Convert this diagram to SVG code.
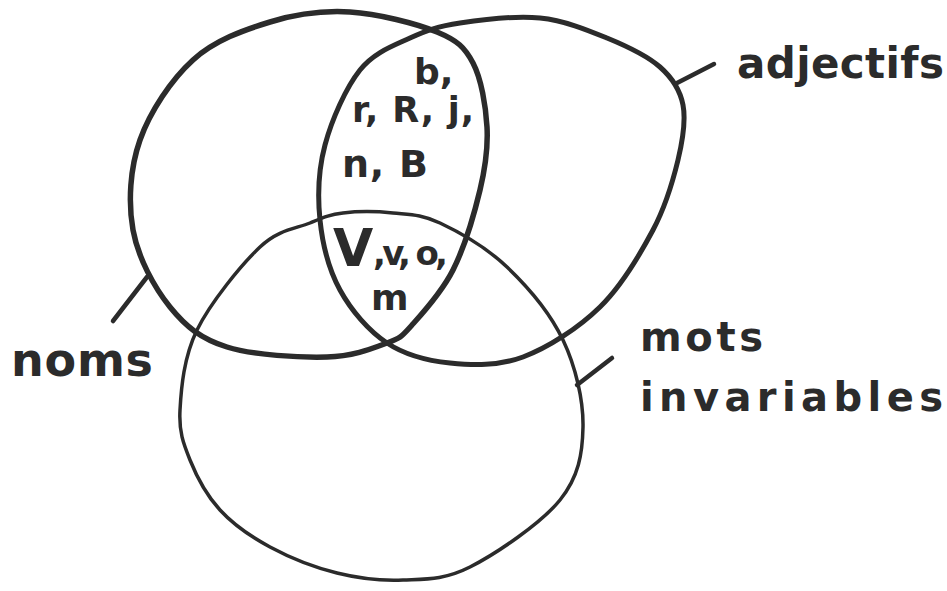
<svg xmlns="http://www.w3.org/2000/svg" width="947" height="591" viewBox="0 0 947 591">
<style>
.set{fill:none;stroke:#2b2b2b;stroke-linecap:round;stroke-linejoin:round}
.thick{stroke-width:5.5}
.med{stroke-width:5}
.thin{stroke-width:3.5}
.lead{fill:none;stroke:#2b2b2b;stroke-width:4.5;stroke-linecap:round}
.lbl{font-family:"DejaVu Sans","Liberation Sans",Arial,sans-serif;font-weight:bold;fill:#2b2b2b}
</style>
<rect width="947" height="591" fill="#ffffff"/>
<g id="node-mots-invariables">
<path class="set thin" d="M343,213 C356.8,211.3 376.8,211.3 393,213 C409.2,214.7 421,214 440,223 C459,232 486.5,247.5 507,267 C527.5,286.5 550.3,313.3 563,340 C575.7,366.7 583.5,400.3 583,427 C582.5,453.7 578.8,476.7 560,500 C541.2,523.3 496.2,553.7 470,567 C443.8,580.3 425.2,579 403,580 C380.8,581 359.2,578.5 337,573 C314.8,567.5 289.5,557.5 270,547 C250.5,536.5 233.3,524.5 220,510 C206.7,495.5 196.7,476.7 190,460 C183.3,443.3 178.8,431.7 180,410 C181.2,388.3 183.7,357.2 197,330 C210.3,302.8 241.2,264.8 260,247 C278.8,229.2 296.2,228.7 310,223 C323.8,217.3 329.2,214.7 343,213 Z"/>
<text class="lbl" x="640" y="351" font-size="40" textLength="123" lengthAdjust="spacing">mots</text>
<text class="lbl" x="640" y="411" font-size="40" textLength="303" lengthAdjust="spacing">invariables</text>
</g>
<g id="node-noms">
<path class="set thick" d="M350,12 C377.8,13.7 416.5,23.5 437,32 C457.5,40.5 464.7,47.2 473,63 C481.3,78.8 485.8,105.8 487,127 C488.2,148.2 485.7,166.2 480,190 C474.3,213.8 464.3,247.5 453,270 C441.7,292.5 423,312.8 412,325 C401,337.2 401.2,337.7 387,343 C372.8,348.3 353.7,356.3 327,357 C300.3,357.7 253.2,355.3 227,347 C200.8,338.7 185.7,326.5 170,307 C154.3,287.5 138,257.8 133,230 C128,202.2 130,168.3 140,140 C150,111.7 171.3,79.7 193,60 C214.7,40.3 243.8,30 270,22 C296.2,14 322.2,10.3 350,12 Z"/>
<text class="lbl" x="11" y="376" font-size="46" textLength="142" lengthAdjust="spacing">noms</text>
</g>
<g id="node-adjectifs">
<path class="set med" d="M460,23 C481.7,19.7 515.5,15.5 540,18 C564.5,20.5 587,29.8 607,38 C627,46.2 647.3,55.8 660,67 C672.7,78.2 680,89.5 683,105 C686,120.5 683,139.2 678,160 C673,180.8 666,205.5 653,230 C640,254.5 621.7,285.8 600,307 C578.3,328.2 548,347.7 523,357 C498,366.3 472.7,365.3 450,363 C427.3,360.7 405.3,355.2 387,343 C368.7,330.8 351.2,310.5 340,290 C328.8,269.5 322.5,244.2 320,220 C317.5,195.8 318.3,170 325,145 C331.7,120 345.8,87.8 360,70 C374.2,52.2 393.3,45.8 410,38 C426.7,30.2 438.3,26.3 460,23 Z"/>
<text class="lbl" x="737" y="78" font-size="42" textLength="207" lengthAdjust="spacing">adjectifs</text>
</g>
<g id="connectors">
<line class="lead" x1="147" y1="277" x2="113" y2="321"/>
<line class="lead" x1="677" y1="83" x2="714" y2="64"/>
<line class="lead" x1="577" y1="385" x2="612" y2="358"/>
</g>
<g id="members">
<text class="lbl" x="414" y="84" font-size="36">b,</text>
<text class="lbl" x="352" y="122" font-size="35" textLength="122" lengthAdjust="spacing">r, R, j,</text>
<text class="lbl" x="342" y="177" font-size="38" textLength="86" lengthAdjust="spacing">n, B</text>
<text class="lbl" x="333" y="266" font-size="52">V</text>
<text class="lbl" x="373" y="265" font-size="34" textLength="75" lengthAdjust="spacing">,v, o,</text>
<text class="lbl" x="371" y="310" font-size="36">m</text>
</g>
</svg>
